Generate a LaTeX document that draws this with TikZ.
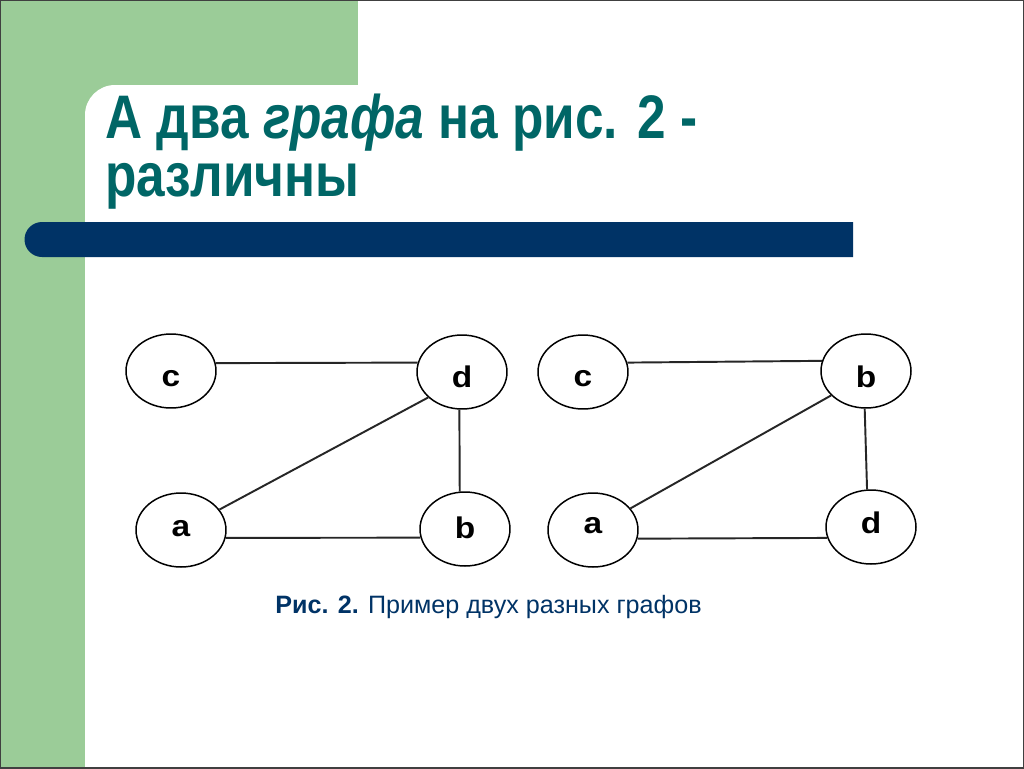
\documentclass[tikz,border=0pt]{standalone}
\usepackage{fontspec}
\setmainfont{Liberation Sans}
\newfontfamily\titlefont[FakeStretch=0.835]{Liberation Sans}
\newfontfamily\labelfont[FakeStretch=1.12]{Liberation Sans}
\usetikzlibrary{shapes.geometric, positioning}

\definecolor{slidegreen}{RGB}{155,204,152}
\definecolor{titleteal}{RGB}{0,102,102}
\definecolor{barnavy}{RGB}{0,51,102}

\tikzset{
	vert/.style={ellipse, draw, line width=0.85pt, minimum width=1.8cm, minimum height=1.48cm,
		inner sep=0pt, text height=13.5pt, text depth=0pt,
		font=\labelfont\fontsize{17}{18}\selectfont\bfseries},
	link/.style={line width=1.1pt, black!85}
}

\begin{document}
\begin{tikzpicture}[x=0.02cm, y=-0.02cm]
	\useasboundingbox (0,0) rectangle (1024,768);
	\clip (0,0) rectangle (1024,768);

	% slide background
	\fill[slidegreen] (0,0) rectangle (358,768);
	\fill[white, rounded corners=0.6cm] (85,85) rectangle (1100,850);
	\fill[barnavy] (853,222) -- (42,222) arc[start angle=270, end angle=90, radius=17.5] -- (853,257) -- cycle;
	\draw[line width=1.2pt, black!75] (0,0) rectangle (1024,768);

	% title
	\node[anchor=north west, inner sep=0pt, align=left, text=titleteal,
		font=\titlefont\fontsize{35}{33}\selectfont\bfseries]
		(title) at (105,94) {А два \textit{графа} на рис. 2 -\\различны};

	% first graph
	\node[vert, text height=18pt] (c1) at (171,371) {c};
	\node[vert, text height=18pt] (d1) at (462,372) {d};
	\node[vert, text height=7pt] (a1) at (181,530) {a};
	\node[vert, text height=11pt] (b1) at (465,529) {b};

	% second graph
	\node[vert, text height=16pt] (c2) at (583,372) {c};
	\node[vert, text height=19pt] (b2) at (866,371) {b};
	\node[vert, text height=4pt] (a2) at (593,530) {a};
	\node[vert, text height=7pt] (d2) at (871,527) {d};

	\draw [link]
		(c1.10) edge (d1.168)
		(a1.350) edge (b1.191)
		(d1.266) edge (b1.98)
		(a1.28) edge (d1.217)

		(c2.12) edge (b2.167)
		(a2.349) edge (d2.194)
		(b2.268) edge (d2.96)
		(a2.30) edge (b2.215)
		;

	% caption
	\node[anchor=base west, inner sep=0pt, text=barnavy, font=\fontsize{14.3}{17}\selectfont]
		(caption) at (275,613) {\textbf{Рис. 2.} Пример двух разных графов};
\end{tikzpicture}
\end{document}
